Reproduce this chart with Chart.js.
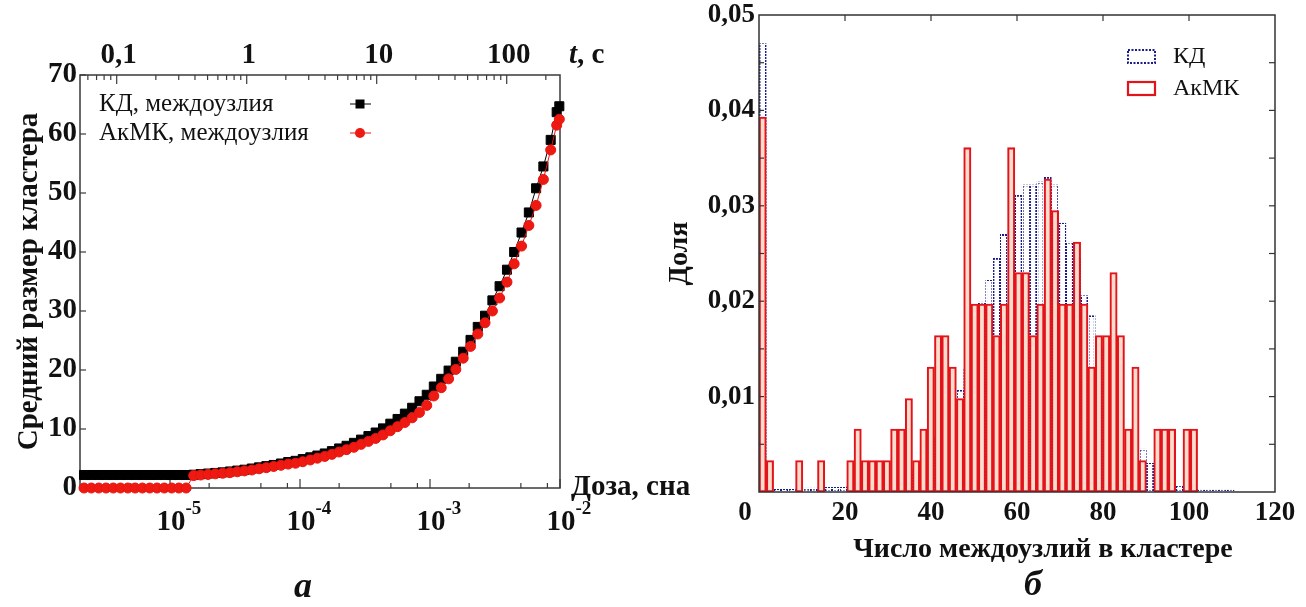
<!DOCTYPE html>
<html>
<head>
<meta charset="utf-8">
<script src="https://cdn.jsdelivr.net/npm/chart.js@4.4.0/dist/chart.umd.min.js"></script>
<style>
html,body{margin:0;padding:0;background:#fff;}
#wrap{position:relative;width:1306px;height:607px;overflow:hidden;background:#fff;}
canvas{position:absolute;top:0;}
#doseChart{left:0;}
#histChart{left:660px;}
</style>
</head>
<body>
<div id="wrap">
<canvas id="doseChart" width="720" height="607"></canvas>
<canvas id="histChart" width="646" height="607"></canvas>
</div>
<script>
// ==========================
// Panel a: mean cluster size vs dose
// ==========================

const doses = [2.18e-6, 2.48e-6, 2.83e-6, 3.22e-6, 3.66e-6, 4.16e-6, 4.74e-6, 5.39e-6, 6.13e-6, 6.98e-6,
  7.94e-6, 9.04e-6, 1.03e-5, 1.17e-5, 1.33e-5, 1.52e-5, 1.72e-5, 1.96e-5, 2.23e-5, 2.54e-5,
  2.89e-5, 3.29e-5, 3.74e-5, 4.26e-5, 4.84e-5, 5.51e-5, 6.27e-5, 7.14e-5, 8.12e-5, 9.24e-5,
  1.05e-4, 1.20e-4, 1.36e-4, 1.55e-4, 1.76e-4, 2.00e-4, 2.28e-4, 2.60e-4, 2.95e-4, 3.36e-4,
  3.82e-4, 4.35e-4, 4.95e-4, 5.63e-4, 6.41e-4, 7.29e-4, 8.30e-4, 9.44e-4, 1.07e-3, 1.22e-3,
  1.39e-3, 1.58e-3, 1.80e-3, 2.05e-3, 2.33e-3, 2.65e-3, 3.02e-3, 3.43e-3, 3.91e-3, 4.44e-3,
  5.06e-3, 5.76e-3, 6.55e-3, 7.45e-3, 8.48e-3, 9.43e-3, 9.88e-3];

const sizeKD = [2.2, 2.2, 2.2, 2.2, 2.2, 2.2, 2.2, 2.2, 2.2, 2.2,
  2.2, 2.2, 2.2, 2.2, 2.2, 2.25, 2.35, 2.45, 2.55, 2.65,
  2.8, 2.95, 3.1, 3.3, 3.5, 3.7, 3.9, 4.15, 4.4, 4.6,
  4.9, 5.2, 5.5, 5.85, 6.25, 6.7, 7.15, 7.65, 8.2, 8.8,
  9.4, 10.1, 10.9, 11.7, 12.6, 13.6, 14.7, 15.8, 17.2, 18.5,
  19.9, 21.4, 23.1, 25.1, 27.3, 29.2, 31.8, 34.2, 37.0, 40.0,
  43.3, 46.7, 50.8, 54.5, 59.0, 63.7, 64.7];

const sizeAkMK = [0, 0, 0, 0, 0, 0, 0, 0, 0, 0,
  0, 0, 0, 0, 0, 2.1, 2.2, 2.3, 2.4, 2.5,
  2.6, 2.75, 2.9, 3.05, 3.25, 3.45, 3.65, 3.85, 4.05, 4.2,
  4.45, 4.75, 5.05, 5.35, 5.7, 6.1, 6.5, 6.9, 7.4, 7.9,
  8.4, 9.0, 9.7, 10.4, 11.1, 11.9, 12.8, 14.0, 15.6, 17.0,
  18.5, 20.1, 22.0, 24.0, 26.1, 28.0, 30.0, 32.2, 34.9, 38.0,
  41.0, 44.5, 47.9, 52.3, 57.3, 61.5, 62.5];

const sizeTicks = [0, 10, 20, 30, 40, 50, 60, 70];
const doseDecades = [1e-5, 1e-4, 1e-3, 1e-2];
const doseExponents = ['-5', '-4', '-3', '-2'];
const doseMinor = [2, 5, 8];
const timeTicks = [0.1, 1, 10, 100];
const timeLabels = ['0,1', '1', '10', '100'];

// ==========================
// Panel b: cluster size distribution
// ==========================

const binCenters = [0.85, 2.55, 4.25, 5.95, 7.65, 9.35, 11.05, 12.75, 14.45, 16.15,
  17.85, 19.55, 21.25, 22.95, 24.65, 26.35, 28.05, 29.75, 31.45, 33.15,
  34.85, 36.55, 38.25, 39.95, 41.65, 43.35, 45.05, 46.75, 48.45, 50.15,
  51.85, 53.55, 55.25, 56.95, 58.65, 60.35, 62.05, 63.75, 65.45, 67.15,
  68.85, 70.55, 72.25, 73.95, 75.65, 77.35, 79.05, 80.75, 82.45, 84.15,
  85.85, 87.55, 89.25, 90.95, 92.65, 94.35, 96.05, 97.75, 99.45, 101.15,
  102.85, 104.55, 106.25, 107.95, 109.65];

const shareKD = [0.0470, 0.0000, 0.0003, 0.0003, 0.0003, 0.0001, 0.0004, 0.0004, 0.0002, 0.0005,
  0.0005, 0.0005, 0.0006, 0.0006, 0.0008, 0.0009, 0.0010, 0.0012, 0.0016, 0.0016,
  0.0019, 0.0024, 0.0030, 0.0042, 0.0058, 0.0074, 0.0090, 0.0107, 0.0130, 0.0160,
  0.0199, 0.0222, 0.0245, 0.0270, 0.0300, 0.0311, 0.0322, 0.0322, 0.0325, 0.0330,
  0.0322, 0.0282, 0.0262, 0.0245, 0.0206, 0.0185, 0.0150, 0.0115, 0.0080, 0.0068,
  0.0058, 0.0050, 0.0045, 0.0030, 0.0018, 0.0015, 0.0010, 0.0007, 0.0005, 0.0003,
  0.0002, 0.0002, 0.0002, 0.0002, 0.0002];

const shareAkMK = [0.0393, 0.0033, 0, 0, 0, 0.0033, 0, 0, 0.0033, 0,
  0, 0, 0.0033, 0.0066, 0.0033, 0.0033, 0.0033, 0.0033, 0.0066, 0.0066,
  0.0098, 0.0033, 0.0066, 0.0131, 0.0164, 0.0164, 0.0131, 0.0098, 0.0361, 0.0197,
  0.0197, 0.0197, 0.0164, 0.0197, 0.0361, 0.0230, 0.0230, 0.0164, 0.0197, 0.0328,
  0.0295, 0.0197, 0.0197, 0.0262, 0.0197, 0.0131, 0.0164, 0.0164, 0.0230, 0.0164,
  0.0066, 0.0131, 0.0033, 0, 0.0066, 0.0066, 0.0066, 0, 0.0066, 0.0066];

const shareTicks = [0.01, 0.02, 0.03, 0.04, 0.05];
const shareLabels = ['0,01', '0,02', '0,03', '0,04', '0,05'];
const shareMinor = [0.005, 0.01, 0.015, 0.02, 0.025, 0.03, 0.035, 0.04, 0.045];
const countTicks = [0, 20, 40, 60, 80, 100, 120];

// ==========================
// helpers
// ==========================

const serif = '"Liberation Serif", "DejaVu Serif", serif';
const ink = '#111';

function seg(ctx, x1, y1, x2, y2) {
  ctx.beginPath();
  ctx.moveTo(x1, y1);
  ctx.lineTo(x2, y2);
  ctx.stroke();
}

// dotted look for the KD bar outlines
function dotPattern(color) {
  const c = document.createElement('canvas');
  c.width = 3; c.height = 3;
  const g = c.getContext('2d');
  g.fillStyle = '#fff';
  g.fillRect(0, 0, 3, 3);
  g.fillStyle = color;
  g.fillRect(0, 0, 2, 2);
  return g.createPattern(c, 'repeat');
}

// axes, ticks and texts of panel a
const frameA = {
  id: 'frameA',
  beforeDatasetsDraw(chart) {
    const {ctx, chartArea: a, scales: {x, y, t}} = chart;
    ctx.save();
    ctx.strokeStyle = '#3a3a3a';
    ctx.lineWidth = 1.5;
    ctx.strokeRect(a.left, a.top, a.right - a.left, a.bottom - a.top);
    ctx.lineWidth = 1.2;
    sizeTicks.forEach(v => {
      const py = y.getPixelForValue(v);
      seg(ctx, a.left, py, a.left + 6, py);
    });
    // dose ticks on the bottom edge
    [1e-6, 1e-5, 1e-4, 1e-3].forEach(d => {
      doseMinor.forEach(m => {
        const px = x.getPixelForValue(d * m);
        if (px > a.left + 1 && px < a.right - 1) seg(ctx, px, a.bottom, px, a.bottom - 5);
      });
    });
    doseDecades.forEach(d => {
      const px = x.getPixelForValue(d);
      seg(ctx, px, a.bottom, px, a.bottom - 9);
    });
    // time ticks on the top edge
    [0.01, 0.1, 1, 10, 100].forEach(d => {
      for (let m = 2; m <= 9; m++) {
        const px = t.getPixelForValue(d * m);
        if (px > a.left + 1 && px < a.right - 1) seg(ctx, px, a.top, px, a.top + 5);
      }
    });
    timeTicks.forEach(v => {
      const px = t.getPixelForValue(v);
      seg(ctx, px, a.top, px, a.top + 9);
    });
    ctx.restore();
  },
  afterDatasetsDraw(chart) {
    const {ctx, chartArea: a, scales: {x, y, t}} = chart;
    ctx.save();
    ctx.fillStyle = ink;
    ctx.font = 'bold 29px ' + serif;
    ctx.textBaseline = 'middle';
    ctx.textAlign = 'right';
    sizeTicks.forEach(v => ctx.fillText(String(v), a.left - 3, y.getPixelForValue(v)));

    ctx.textAlign = 'center';
    timeTicks.forEach((v, i) => ctx.fillText(timeLabels[i], t.getPixelForValue(v) + 2, 56));

    doseDecades.forEach((d, i) => {
      const px = x.getPixelForValue(d) + 1;
      ctx.font = 'bold 29px ' + serif;
      ctx.textAlign = 'center';
      ctx.fillText('10', px, 523);
      const w = ctx.measureText('10').width;
      ctx.font = 'bold 19px ' + serif;
      ctx.textAlign = 'left';
      ctx.fillText(doseExponents[i], px + w / 2, 509);
    });

    // axis titles
    ctx.font = 'bold 29px ' + serif;
    ctx.textAlign = 'left';
    ctx.fillText('Доза, сна', a.right + 11, a.bottom);
    ctx.font = 'italic bold 29px ' + serif;
    ctx.fillText('t', 569, 56);
    const tw = ctx.measureText('t').width;
    ctx.font = 'bold 29px ' + serif;
    ctx.fillText(', c', 569 + tw, 56);

    ctx.save();
    ctx.translate(30, (a.top + a.bottom) / 2);
    ctx.rotate(-Math.PI / 2);
    ctx.textAlign = 'center';
    ctx.fillText('Средний размер кластера', 0, 0);
    ctx.restore();

    // legend
    ctx.font = '25px ' + serif;
    ctx.textAlign = 'left';
    ctx.fillText('КД, междоузлия', 99, 104);
    ctx.fillText('АкМК, междоузлия', 99, 133);
    ctx.lineWidth = 1;
    ctx.strokeStyle = '#000';
    seg(ctx, 350, 104, 371, 104);
    ctx.fillStyle = '#000';
    ctx.fillRect(360 - 4.5, 104 - 4.5, 9, 9);
    ctx.strokeStyle = '#e8140f';
    seg(ctx, 350, 133, 371, 133);
    ctx.fillStyle = '#ee1a12';
    ctx.beginPath();
    ctx.arc(360, 133, 5, 0, Math.PI * 2);
    ctx.fill();

    // panel letter
    ctx.fillStyle = ink;
    ctx.font = 'italic bold 36px ' + serif;
    ctx.textAlign = 'center';
    ctx.fillText('а', 303, 588);
    ctx.restore();
  }
};

// axes, ticks and texts of panel b
const frameB = {
  id: 'frameB',
  afterDatasetsDraw(chart) {
    const {ctx, chartArea: a, scales: {x, y}} = chart;
    ctx.save();
    ctx.strokeStyle = '#333';
    ctx.lineWidth = 1.5;
    ctx.strokeRect(a.left, a.top, a.right - a.left, a.bottom - a.top);
    ctx.lineWidth = 1.2;
    shareMinor.forEach(v => {
      const py = y.getPixelForValue(v);
      seg(ctx, a.left, py, a.left + 5, py);
      seg(ctx, a.right, py, a.right - 6, py);
    });
    countTicks.slice(1, -1).forEach(v => {
      const px = x.getPixelForValue(v);
      seg(ctx, px, a.top, px, a.top + 6);
    });

    ctx.fillStyle = ink;
    ctx.font = 'bold 27px ' + serif;
    ctx.textBaseline = 'middle';
    ctx.textAlign = 'right';
    shareTicks.forEach((v, i) => ctx.fillText(shareLabels[i], a.left - 4, y.getPixelForValue(v)));
    ctx.textAlign = 'center';
    countTicks.forEach(v => {
      const px = x.getPixelForValue(v) + (v === 0 ? -14 : 0);
      ctx.fillText(String(v), px, 513);
    });

    ctx.font = 'bold 28px ' + serif;
    ctx.fillText('Число междоузлий в кластере', 383, 550);
    ctx.save();
    ctx.translate(20, (a.top + a.bottom) / 2);
    ctx.rotate(-Math.PI / 2);
    ctx.fillText('Доля', 0, 0);
    ctx.restore();

    // legend
    ctx.lineWidth = 2;
    ctx.strokeStyle = '#1a1c8c';
    ctx.setLineDash([2, 1.5]);
    ctx.strokeRect(468, 50, 27, 13);
    ctx.setLineDash([]);
    ctx.strokeStyle = '#e3131b';
    ctx.lineWidth = 2.2;
    ctx.strokeRect(468, 82, 27, 13);
    ctx.font = '24px ' + serif;
    ctx.textAlign = 'left';
    ctx.fillStyle = ink;
    ctx.fillText('КД', 513, 57);
    ctx.fillText('АкМК', 513, 89);

    ctx.font = 'italic bold 36px ' + serif;
    ctx.textAlign = 'center';
    ctx.fillText('б', 373, 586);
    ctx.restore();
  }
};

// ==========================
// charts
// ==========================

new Chart(document.getElementById('doseChart'), {
  type: 'line',
  data: {
    datasets: [{
      label: 'АкМК, междоузлия',
      data: doses.map((d, i) => ({x: d, y: sizeAkMK[i]})),
      borderColor: '#e8140f',
      backgroundColor: '#ee1a12',
      pointBorderColor: '#e8140f',
      pointStyle: 'circle',
      pointRadius: 5,
      borderWidth: 1,
      order: 0,
      clip: false
    }, {
      label: 'КД, междоузлия',
      data: doses.map((d, i) => ({x: d, y: sizeKD[i]})),
      borderColor: '#000',
      backgroundColor: '#000',
      pointBorderColor: '#000',
      pointStyle: 'rect',
      pointRadius: 6.4,
      borderWidth: 1,
      order: 1,
      clip: false
    }]
  },
  options: {
    responsive: false,
    animation: false,
    layout: {padding: {left: 80, top: 75, right: 160, bottom: 119}},
    plugins: {legend: {display: false}, tooltip: {enabled: false}},
    scales: {
      x: {type: 'logarithmic', min: 2.03e-6, max: 1e-2, display: false},
      t: {type: 'logarithmic', position: 'top', min: 0.0522, max: 257, display: false},
      y: {type: 'linear', min: 0, max: 70, display: false}
    }
  },
  plugins: [frameA]
});

new Chart(document.getElementById('histChart'), {
  type: 'bar',
  data: {
    datasets: [{
      label: 'АкМК',
      data: shareAkMK.map((v, i) => ({x: binCenters[i], y: v})),
      backgroundColor: '#fbdccd',
      borderColor: '#e3131b',
      borderWidth: 2.1,
      borderSkipped: false,
      order: 0
    }, {
      label: 'КД',
      data: shareKD.map((v, i) => ({x: binCenters[i], y: v})),
      backgroundColor: '#ffffff',
      borderColor: dotPattern('#1a1c8c'),
      borderWidth: 1.8,
      borderSkipped: false,
      order: 1
    }]
  },
  options: {
    responsive: false,
    animation: false,
    grouped: false,
    barPercentage: 1,
    categoryPercentage: 1,
    layout: {padding: {left: 99, top: 15, right: 31, bottom: 115}},
    plugins: {legend: {display: false}, tooltip: {enabled: false}},
    scales: {
      x: {type: 'linear', min: 0, max: 120, offset: false, display: false},
      y: {type: 'linear', min: 0, max: 0.05, display: false}
    }
  },
  plugins: [frameB]
});
</script>
</body>
</html>
